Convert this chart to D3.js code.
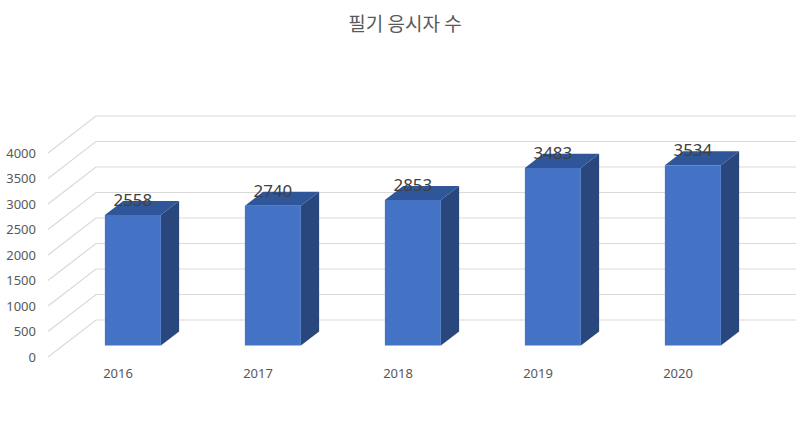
<!DOCTYPE html>
<html>
<head>
<meta charset="utf-8">
<script src="https://cdn.jsdelivr.net/npm/d3@7"></script>
<style>
  body { margin: 0; background: #fff; }
  svg { display: block; font-family: 'Noto Sans', 'Open Sans', sans-serif; }
</style>
</head>
<body>
<svg width="804" height="436"></svg>
<script>
const years = ['2016', '2017', '2018', '2019', '2020'];
const takers = [2558, 2740, 2853, 3483, 3534];
const yTicks = [0, 500, 1000, 1500, 2000, 2500, 3000, 3500, 4000];
const title = '필기 응시자 수';

const svg = d3.select('svg');

// depth offset of the back wall relative to the front plane
const depthX = 48, depthY = -37;
const barDepth = [0.31, 0.69];

const x = d3.scaleBand().domain(years).range([48, 748])
  .paddingInner(0.6).paddingOuter(0.3);
const y = d3.scaleLinear().domain([0, 4000]).range([357, 153]);

const px = (fx, d) => fx + d * depthX;
const py = (v, d) => y(v) + d * depthY;

// back wall gridlines + left wall diagonals
const grid = svg.append('g').attr('stroke', '#d9d9d9').attr('stroke-width', 1.2).attr('fill', 'none');
yTicks.forEach(t => {
  grid.append('path').attr('d',
    'M' + px(x.range()[0], 0) + ',' + py(t, 0) +
    'L' + px(x.range()[0], 1) + ',' + py(t, 1) +
    'L' + px(x.range()[1], 1) + ',' + py(t, 1));
});

// y tick labels
svg.append('g').selectAll('text').data(yTicks).join('text')
  .attr('x', 36).attr('y', d => y(d) + 4.5)
  .attr('text-anchor', 'end').attr('font-size', 13).attr('fill', '#595959')
  .text(d => d);

// bars
const bars = svg.append('g').selectAll('g').data(years.map((k, i) => ({k, v: takers[i]}))).join('g');
const [d0, d1] = barDepth;
const poly = pts => 'M' + pts.map(p => p.join(',')).join('L') + 'Z';
bars.append('path').attr('fill', '#30569a')
  .attr('d', d => {
    const l = x(d.k), r = x(d.k) + x.bandwidth();
    return poly([[px(l, d0), py(d.v, d0)], [px(r, d0), py(d.v, d0)],
                 [px(r, d1), py(d.v, d1)], [px(l, d1), py(d.v, d1)]]);
  });
bars.append('path').attr('fill', '#29477c')
  .attr('d', d => {
    const r = x(d.k) + x.bandwidth();
    return poly([[px(r, d0), py(0, d0)], [px(r, d0), py(d.v, d0)],
                 [px(r, d1), py(d.v, d1)], [px(r, d1), py(0, d1)]]);
  });
bars.append('path').attr('fill', '#4472c4')
  .attr('d', d => {
    const l = x(d.k), r = x(d.k) + x.bandwidth();
    return poly([[px(l, d0), py(0, d0)], [px(r, d0), py(0, d0)],
                 [px(r, d0), py(d.v, d0)], [px(l, d0), py(d.v, d0)]]);
  });

// value labels
bars.append('text')
  .attr('x', d => px(x(d.k) + x.bandwidth() / 2, d0))
  .attr('y', d => py(d.v, d0) - 9)
  .attr('text-anchor', 'middle').attr('font-size', 17).attr('fill', '#404040')
  .text(d => d.v);

// category labels
svg.append('g').selectAll('text').data(years).join('text')
  .attr('x', d => x(d) + x.bandwidth() / 2).attr('y', 378)
  .attr('text-anchor', 'middle').attr('font-size', 13).attr('fill', '#595959')
  .text(d => d);

// title
svg.append('text').attr('x', 405).attr('y', 31)
  .attr('text-anchor', 'middle').attr('font-size', 19).attr('fill', '#595959')
  .attr('font-family', "'Noto Sans CJK KR', 'Noto Sans', sans-serif")
  .text(title);
</script>
</body>
</html>
